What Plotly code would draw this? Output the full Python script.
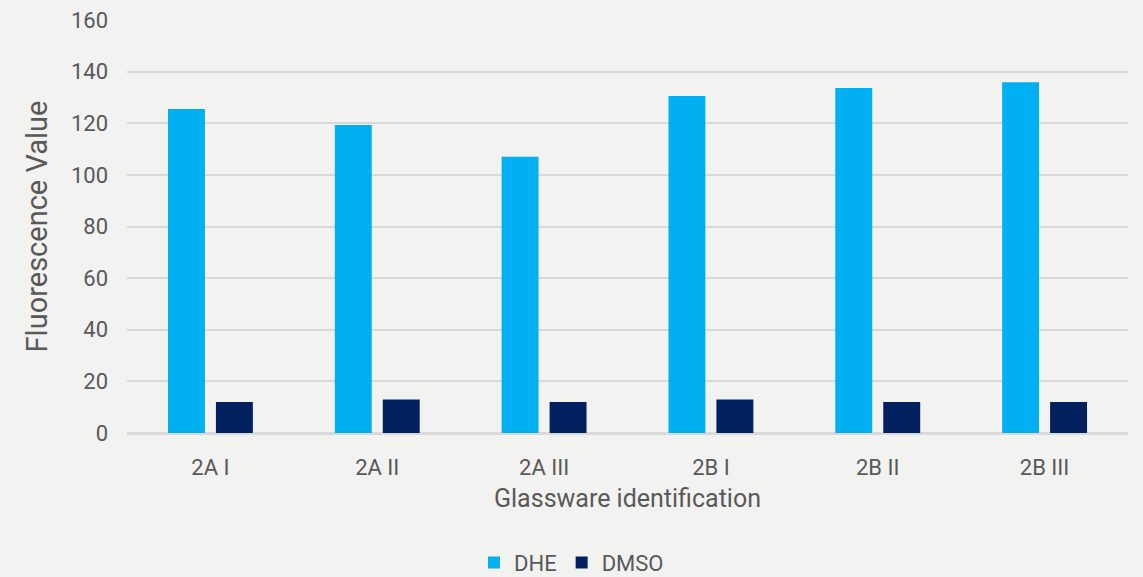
import plotly.graph_objects as go

# Glassware samples and measured fluorescence
categories = ["2A I", "2A II", "2A III", "2B I", "2B II", "2B III"]
dhe_values = [125.5, 119.3, 107, 130.6, 133.7, 135.9]
dmso_values = [12, 13, 12, 13, 12, 12]
y_ticks = [0, 20, 40, 60, 80, 100, 120, 140, 160]

text_color = "#595959"
grid_color = "#D9D9D9"
bg_color = "#F2F2F0"
font_family = "Roboto"

fig = go.Figure()
fig.add_trace(go.Bar(
    name="DHE", x=categories, y=dhe_values,
    marker=dict(color="#00B0F0", line=dict(width=0)),
))
fig.add_trace(go.Bar(
    name="DMSO", x=categories, y=dmso_values,
    marker=dict(color="#002060", line=dict(width=0)),
))

fig.update_layout(
    width=1143, height=577,
    margin=dict(l=127, r=15, t=20, b=144, autoexpand=False),
    paper_bgcolor=bg_color, plot_bgcolor=bg_color,
    barmode="group", bargap=0.425, bargroupgap=0.23,
    font=dict(family=font_family, color=text_color, size=22),
    showlegend=True,
    legend=dict(
        orientation="h", xref="container", x=0.5, xanchor="center",
        yref="container", y=0.025, yanchor="middle",
        font=dict(size=22, color=text_color), itemwidth=30,
        bgcolor="rgba(0,0,0,0)",
    ),
    xaxis=dict(
        title=dict(text="Glassware identification", font=dict(size=25), standoff=10),
        showgrid=False, showline=True, linecolor=grid_color, linewidth=1.5,
        ticks="", tickfont=dict(size=22), ticklabelstandoff=14,
    ),
    yaxis=dict(
        title=dict(text="Fluorescence Value", font=dict(size=29), standoff=14),
        range=[0, 160], tickvals=y_ticks, showgrid=True, gridcolor=grid_color,
        gridwidth=1.5, zeroline=True, zerolinecolor=grid_color, zerolinewidth=1.5,
        showline=False, ticks="", tickfont=dict(size=22), ticklabelstandoff=18,
    ),
)

fig.write_html("out.html")
